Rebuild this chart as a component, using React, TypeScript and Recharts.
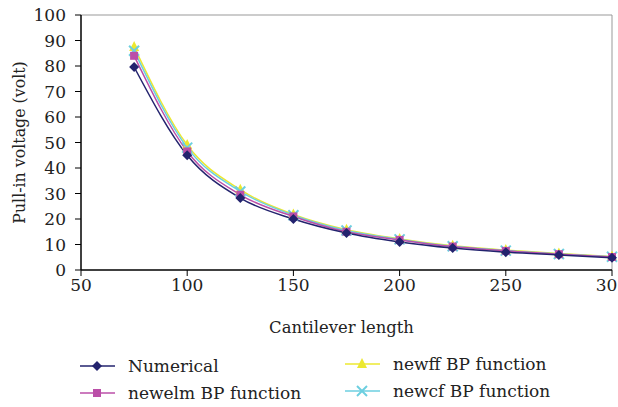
import React from "react";
import { LineChart, Line, XAxis, YAxis, ReferenceLine } from "recharts";

const lengths = [75, 100, 125, 150, 175, 200, 225, 250, 275, 300];
const numerical = [79.6, 45, 28.2, 20, 14.5, 11, 8.6, 7, 5.9, 4.8];
const newelm = [84, 46.5, 29.5, 21, 15, 11.8, 9.2, 7.5, 6.2, 5.1];
const newff = [87.5, 49, 31.5, 21.8, 15.8, 12.2, 9.5, 7.8, 6.5, 5.3];
const newcf = [86, 48, 30.8, 21.5, 15.5, 12, 9.3, 7.6, 6.3, 5.2];
const xTicks = [50, 100, 150, 200, 250, 300];
const yTicks = [0, 10, 20, 30, 40, 50, 60, 70, 80, 90, 100];

const data = lengths.map((x, i) => ({
  x,
  numerical: numerical[i],
  newelm: newelm[i],
  newff: newff[i],
  newcf: newcf[i],
}));

const C_NUM = "#23236e";
const C_ELM = "#bb4fa8";
const C_FF = "#ece830";
const C_CF = "#6ccfe0";
const FONT = "'DejaVu Serif', 'Liberation Serif', 'Times New Roman', Times, serif";

const Diamond = (props: any) => {
  const { cx, cy } = props;
  if (cx == null || cy == null) return null;
  const r = 5;
  return <polygon points={`${cx},${cy - r} ${cx + r},${cy} ${cx},${cy + r} ${cx - r},${cy}`} fill={C_NUM} />;
};
const Square = (props: any) => {
  const { cx, cy } = props;
  if (cx == null || cy == null) return null;
  return <rect x={cx - 4} y={cy - 4} width={8} height={8} fill={C_ELM} />;
};
const Tri = (props: any) => {
  const { cx, cy } = props;
  if (cx == null || cy == null) return null;
  return <polygon points={`${cx},${cy - 6} ${cx + 5},${cy + 4} ${cx - 5},${cy + 4}`} fill={C_FF} />;
};
const Cross = (props: any) => {
  const { cx, cy } = props;
  if (cx == null || cy == null) return null;
  const r = 5;
  return (
    <g stroke={C_CF} strokeWidth={2}>
      <line x1={cx - r} y1={cy - r} x2={cx + r} y2={cy + r} />
      <line x1={cx - r} y1={cy + r} x2={cx + r} y2={cy - r} />
    </g>
  );
};

const legendItems = [
  { label: "Numerical", color: C_NUM, shape: "diamond", x: 80, y: 366 },
  { label: "newelm BP function", color: C_ELM, shape: "square", x: 80, y: 393 },
  { label: "newff BP function", color: C_FF, shape: "tri", x: 345, y: 364 },
  { label: "newcf BP function", color: C_CF, shape: "cross", x: 345, y: 391 },
];

const LegendSvg = () => (
  <svg width={618} height={407} style={{ position: "absolute", left: 0, top: 0, pointerEvents: "none" }}>
    {legendItems.map((it) => {
      const mx = it.x + 17;
      const my = it.y;
      let marker: React.ReactNode = null;
      if (it.shape === "diamond") marker = <Diamond cx={mx} cy={my} />;
      if (it.shape === "square") marker = <Square cx={mx} cy={my} />;
      if (it.shape === "tri") marker = <Tri cx={mx} cy={my} />;
      if (it.shape === "cross") marker = <Cross cx={mx} cy={my} />;
      return (
        <g key={it.label}>
          <line x1={it.x} y1={my} x2={it.x + 35} y2={my} stroke={it.color} strokeWidth={1.5} />
          {marker}
          <text x={it.x + 48} y={my} dy="0.35em" style={{ fontFamily: FONT, fontSize: 17 }} fill="#222">
            {it.label}
          </text>
        </g>
      );
    })}
  </svg>
);

const YTitle = (props: any) => {
  const vb = props.viewBox || {};
  const cy = (vb.y ?? 0) + (vb.height ?? 0) / 2;
  return (
    <text x={0} y={0} transform={`translate(19, ${cy}) rotate(-90)`} textAnchor="middle" dominantBaseline="central" style={{ fontFamily: FONT, fontSize: 15.8 }} fill="#222">
      Pull-in voltage (volt)
    </text>
  );
};

export default function App() {
  return (
    <div style={{ position: "absolute", left: 0, top: 0, width: 618, height: 407, background: "#fff", fontFamily: FONT }}>
      <LineChart width={618} height={345} data={data} margin={{ top: 15, right: 6, bottom: 0, left: 0 }} style={{ fontFamily: FONT }}>
        <XAxis
          dataKey="x"
          type="number"
          domain={[50, 300]}
          ticks={xTicks}
          interval={0}
          tickSize={6}
          tickMargin={3}
          height={75}
          axisLine={{ stroke: "#000", strokeWidth: 1.5 }}
          tickLine={{ stroke: "#000" }}
          tick={{ fontSize: 17, fill: "#222", style: { fontFamily: FONT } }}
          label={{ value: "Cantilever length", position: "insideBottom", offset: 12, dx: -5, fontSize: 16.4, fill: "#222", style: { fontFamily: FONT } }}
        />
        <YAxis
          type="number"
          domain={[0, 100]}
          ticks={yTicks}
          interval={0}
          tickSize={6}
          tickMargin={9}
          width={81}
          axisLine={{ stroke: "#000", strokeWidth: 1.5 }}
          tickLine={{ stroke: "#000" }}
          tick={{ fontSize: 17, fill: "#222", style: { fontFamily: FONT } }}
          label={<YTitle />}
        />
        <ReferenceLine y={100} stroke="#999" strokeWidth={1} />
        <ReferenceLine x={300} stroke="#999" strokeWidth={1} />
        <Line dataKey="newff" type="monotone" stroke={C_FF} strokeWidth={1.5} dot={<Tri />} isAnimationActive={false} />
        <Line dataKey="newcf" type="monotone" stroke={C_CF} strokeWidth={1.5} dot={<Cross />} isAnimationActive={false} />
        <Line dataKey="newelm" type="monotone" stroke={C_ELM} strokeWidth={1.5} dot={<Square />} isAnimationActive={false} />
        <Line dataKey="numerical" type="monotone" stroke={C_NUM} strokeWidth={1.5} dot={<Diamond />} isAnimationActive={false} />
      </LineChart>
      <LegendSvg />
    </div>
  );
}
